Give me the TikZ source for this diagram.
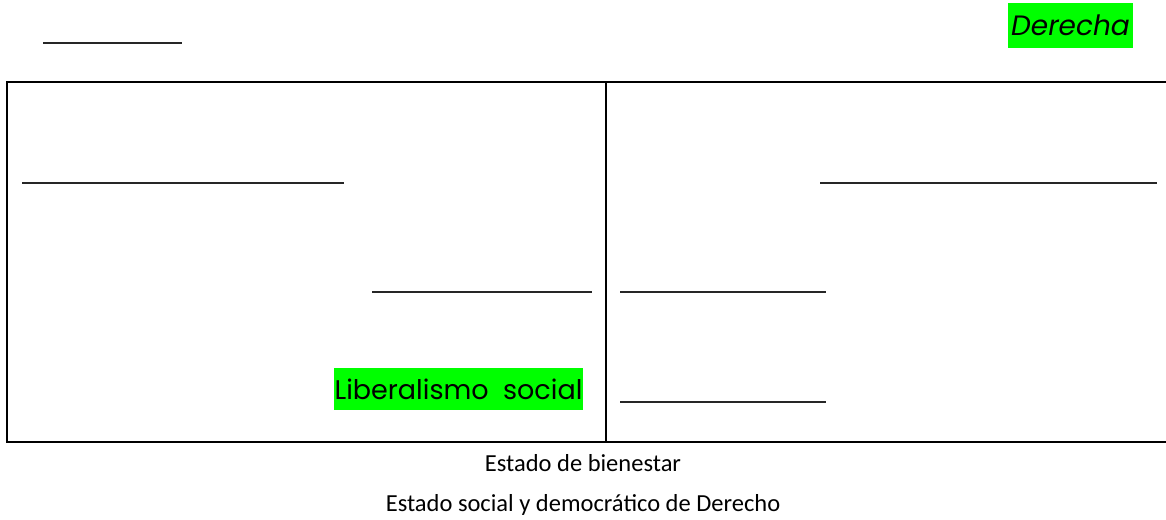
\documentclass[tikz,border=0pt]{standalone}
\usepackage{fontspec}
\setmainfont{Carlito}
\newfontfamily\comicfont{Poppins}
\definecolor{hlgreen}{HTML}{00FF00}
\begin{document}
\begin{tikzpicture}[x=1pt,y=-1pt,
  blank/.style={line width=1.6pt, black!85},
  frame/.style={line width=2.2pt, black},
  hl/.style={fill=hlgreen, inner sep=1pt, text=black},
  caption/.style={font=\fontsize{24.5}{28}\selectfont, anchor=center}]
\useasboundingbox (0,0) rectangle (1166,519);
\clip (0,0) rectangle (1166,519);
% top
\coordinate (t1a) at (43,43); \coordinate (t1b) at (182,43);
\draw[blank] (t1a) -- (t1b);
\node[hl, font=\comicfont\itshape\fontsize{28}{30}\selectfont, minimum height=45pt, minimum width=125pt] (der) at (1070.5,25.5) {Derecha};
% frame
\draw[frame] (7,82) rectangle (1175,442);
\coordinate (dtop) at (606,82); \coordinate (dbot) at (606,442);
\draw[frame] (dtop) -- (dbot);
% row 1
\coordinate (l1a) at (22,183); \coordinate (l1b) at (344,183);
\coordinate (r1a) at (820,183); \coordinate (r1b) at (1157,183);
\draw[blank] (l1a) -- (l1b);
\draw[blank] (r1a) -- (r1b);
% row 2
\coordinate (l2a) at (372,292); \coordinate (l2b) at (592,292);
\coordinate (r2a) at (620,292); \coordinate (r2b) at (826,292);
\draw[blank] (l2a) -- (l2b);
\draw[blank] (r2a) -- (r2b);
% row 3
\node[hl, font=\comicfont\fontsize{27}{29}\selectfont, minimum height=42pt, minimum width=249pt] (lib) at (458.5,389) {Liberalismo\ \ social};
\coordinate (r3a) at (620,402); \coordinate (r3b) at (826,402);
\draw[blank] (r3a) -- (r3b);
% captions
\node[caption] (c1) at (583,463) {Estado de bienestar};
\node[caption] (c2) at (583,505) {Estado social y democrático de Derecho};
\end{tikzpicture}
\end{document}
